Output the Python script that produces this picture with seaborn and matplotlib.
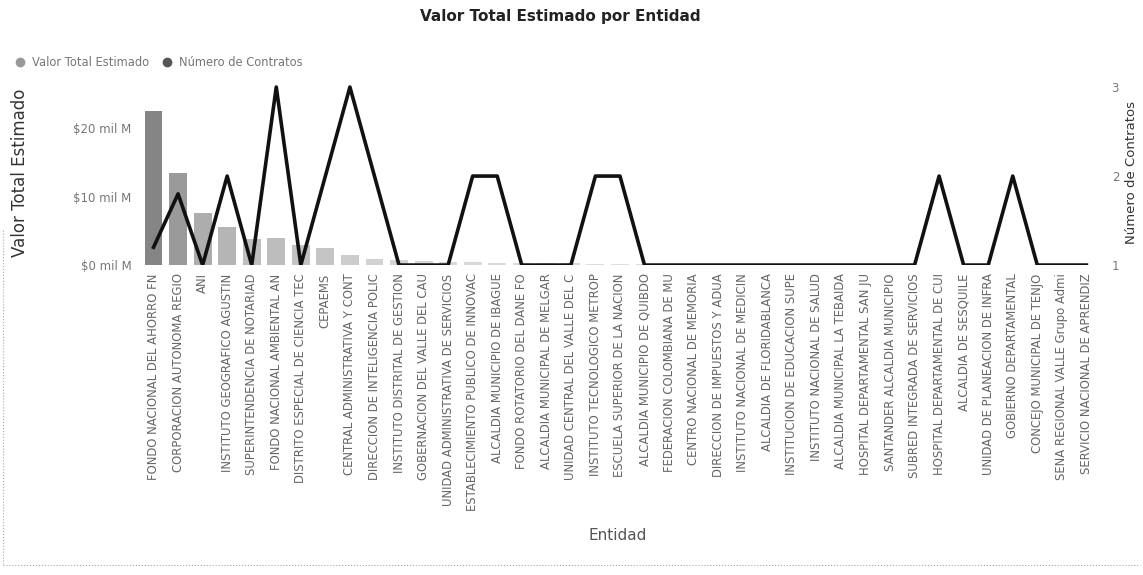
import numpy as np
import pandas as pd
import matplotlib
matplotlib.use("Agg")
import matplotlib.pyplot as plt
import seaborn as sns
from matplotlib.lines import Line2D

entidades = [
    "FONDO NACIONAL DEL AHORRO FN",
    "CORPORACION AUTONOMA REGIO",
    "ANI",
    "INSTITUTO GEOGRAFICO AGUSTIN",
    "SUPERINTENDENCIA DE NOTARIAD",
    "FONDO NACIONAL AMBIENTAL AN",
    "DISTRITO ESPECIAL DE CIENCIA TEC",
    "CEPAEMS",
    "CENTRAL ADMINISTRATIVA Y CONT",
    "DIRECCION DE INTELIGENCIA POLIC",
    "INSTITUTO DISTRITAL DE GESTION",
    "GOBERNACION DEL VALLE DEL CAU",
    "UNIDAD ADMINISTRATIVA DE SERVICIOS",
    "ESTABLECIMIENTO PUBLICO DE INNOVAC",
    "ALCALDIA MUNICIPIO DE IBAGUE",
    "FONDO ROTATORIO DEL DANE FO",
    "ALCALDIA MUNICIPAL DE MELGAR",
    "UNIDAD CENTRAL DEL VALLE DEL C",
    "INSTITUTO TECNOLOGICO METROP",
    "ESCUELA SUPERIOR DE LA NACION",
    "ALCALDIA MUNICIPIO DE QUIBDO",
    "FEDERACION COLOMBIANA DE MU",
    "CENTRO NACIONAL DE MEMORIA",
    "DIRECCION DE IMPUESTOS Y ADUA",
    "INSTITUTO NACIONAL DE MEDICIN",
    "ALCALDIA DE FLORIDABLANCA",
    "INSTITUCION DE EDUCACION SUPE",
    "INSTITUTO NACIONAL DE SALUD",
    "ALCALDIA MUNICIPAL LA TEBAIDA",
    "HOSPITAL DEPARTAMENTAL SAN JU",
    "SANTANDER ALCALDIA MUNICIPIO",
    "SUBRED INTEGRADA DE SERVICIOS",
    "HOSPITAL DEPARTAMENTAL DE CUI",
    "ALCALDIA DE SESQUILE",
    "UNIDAD DE PLANEACION DE INFRA",
    "GOBIERNO DEPARTAMENTAL",
    "CONCEJO MUNICIPAL DE TENJO",
    "SENA REGIONAL VALLE Grupo Admi",
    "SERVICIO NACIONAL DE APRENDIZ",
]

# valor total estimado, en miles de millones
valor_total = [22.5, 13.5, 7.6, 5.6, 3.8, 3.9, 2.9, 2.5, 1.5, 0.9,
               0.7, 0.55, 0.45, 0.4, 0.35, 0.3, 0.27, 0.24, 0.21, 0.19,
               0.17, 0.15, 0.13, 0.12, 0.11, 0.10, 0.09, 0.08, 0.07, 0.06,
               0.05, 0.05, 0.04, 0.04, 0.03, 0.03, 0.02, 0.02, 0.01]

num_contratos = [1.2, 1.8, 1, 2, 1, 3, 1, 2, 3, 2,
                 1, 1, 1, 2, 2, 1, 1, 1, 2, 2,
                 1, 1, 1, 1, 1, 1, 1, 1, 1, 1,
                 1, 1, 2, 1, 1, 2, 1, 1, 1]

df = pd.DataFrame({"Entidad": entidades, "Valor": valor_total,
                   "Contratos": num_contratos})
df["pos"] = np.arange(len(df))

# gradient grey by value, like the conditional colouring of the original
v = np.array(valor_total)
t = np.sqrt(v / v.max())
grey = 0.90 - 0.38 * t
palette = {e: (g, g, g) for e, g in zip(entidades, grey)}

fig = plt.figure(figsize=(11.43, 5.75), dpi=100)
ax = fig.add_axes([0.1225, 0.539, 0.8355, 0.322])

sns.barplot(data=df, x="Entidad", y="Valor", hue="Entidad", palette=palette,
            legend=False, width=0.73, ax=ax)
ax.set_xlim(-0.55, 38.35)
ax.set_ylim(0, 27)
ax.set_yticks([0, 10, 20])
ax.set_yticklabels(["$0 mil M", "$10 mil M", "$20 mil M"], color="#777777", fontsize=8.5)
ax.set_xticks(range(len(entidades)))
ax.set_xticklabels(entidades, rotation=90, fontsize=8.4, color="#666666", va="top")
ax.tick_params(length=0, pad=6)
ax.set_xlabel("Entidad", fontsize=11, color="#555555", labelpad=12)
ax.set_ylabel("Valor Total Estimado", fontsize=12, color="#333333", labelpad=32)
for s in ax.spines.values():
    s.set_visible(False)

ax2 = ax.twinx()
sns.lineplot(data=df, x="pos", y="Contratos", color="#111111", linewidth=2.6, ax=ax2)
ax2.set_xlim(-0.55, 38.35)
ax2.set_ylim(1, 3.08)
ax2.set_yticks([1, 2, 3])
ax2.set_yticklabels(["1", "2", "3"], color="#777777", fontsize=8.5)
ax2.tick_params(length=0, pad=12)
ax2.set_ylabel("Número de Contratos", fontsize=9.5, color="#333333", labelpad=4)
for s in ax2.spines.values():
    s.set_visible(False)

fig.suptitle("Valor Total Estimado por Entidad", x=0.49, y=0.985,
             fontsize=11, fontweight="bold", color="#222222")

handles = [Line2D([], [], marker="o", linestyle="", color="#999999", markersize=6),
           Line2D([], [], marker="o", linestyle="", color="#555555", markersize=6)]
fig.legend(handles, ["Valor Total Estimado", "Número de Contratos"],
           loc="upper left", bbox_to_anchor=(-0.002, 0.92), ncol=2, frameon=False,
           fontsize=8.3, handletextpad=0.1, columnspacing=0.5, labelcolor="#777777")

# faint frame of the scanned page
fig.add_artist(Line2D([0.003, 0.003], [0.02, 0.60], color="#aaaaaa", lw=0.8,
                      linestyle=":", transform=fig.transFigure))
fig.add_artist(Line2D([0.003, 0.997], [0.018, 0.018], color="#aaaaaa", lw=0.8,
                      linestyle=":", transform=fig.transFigure))

fig.savefig("out.png", dpi=100)
